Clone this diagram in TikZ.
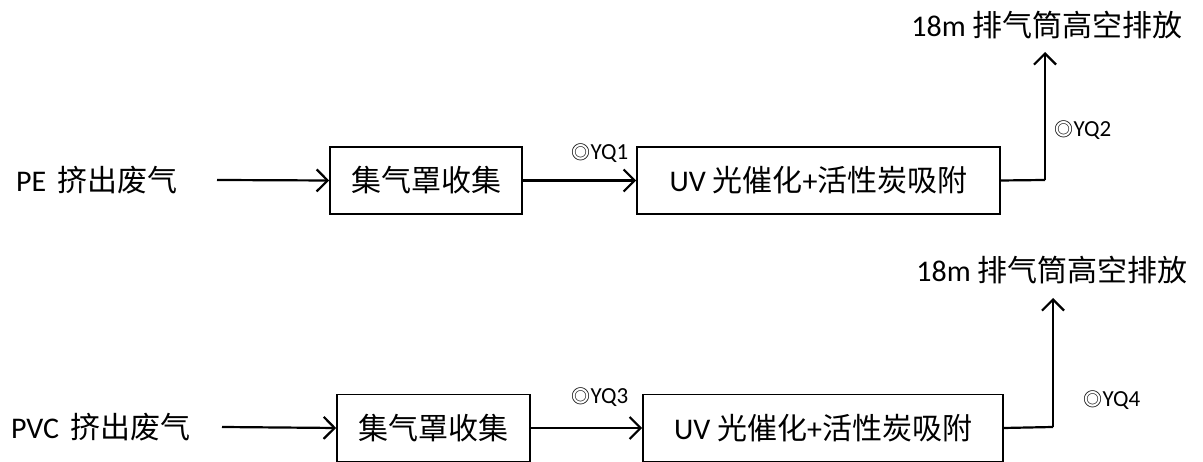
\documentclass[tikz,border=0pt]{standalone}
\usepackage{fontspec}
\setmainfont{Carlito}
\newfontfamily\cjk{Noto Sans CJK SC}
\usetikzlibrary{arrows.meta}
\begin{document}
\begin{tikzpicture}[x=1pt,y=1pt,
  txt/.style={inner sep=0pt,font=\fontsize{30}{32}\selectfont},
  lbl/.style={inner sep=0pt,font=\fontsize{23}{25}\selectfont},
  procbox/.style={draw,line width=1.6pt,minimum height=67pt,inner sep=0pt,font=\fontsize{30}{32}\selectfont},
  flow/.style={line width=2.2pt,-{Straight Barb[length=11pt,width=22pt,line width=2.2pt]}},
  plain/.style={line width=2.2pt}]
\useasboundingbox (0,0) rectangle (1203,462);
\clip (0,0) rectangle (1203,462);
% row 1
\node[txt] (in1) at (97,282) {PE\, {\cjk 挤出废气}};
\node[procbox,minimum width=192pt] (b1) at (426,281.5) {\cjk 集气罩收集};
\node[procbox,minimum width=363pt] (b2) at (818.5,281.5) {UV {\cjk 光催化}+{\cjk 活性炭吸附}};
\coordinate (s1) at (217,282);
\coordinate (k1) at (1045,282);
\node[txt] (o1) at (1047,437) {18m {\cjk 排气筒高空排放}};
\coordinate (t1) at (1045,410);
\node[lbl] (q1) at (600,309) {{\cjk\fontsize{19}{21}\selectfont ◎}YQ1};
\node[lbl] (q2) at (1083,332) {{\cjk\fontsize{19}{21}\selectfont ◎}YQ2};
\draw[flow] (s1) -- (b1.west);
\draw[flow] (b1.east) -- (b2.west);
\draw[plain] (b2.east) -- (k1);
\draw[flow] (k1) -- (t1);
% row 2
\node[txt] (in2) at (101,35) {PVC\, {\cjk 挤出废气}};
\node[procbox,minimum width=193pt] (b3) at (433.5,34) {\cjk 集气罩收集};
\node[procbox,minimum width=360pt] (b4) at (823,34) {UV {\cjk 光催化}+{\cjk 活性炭吸附}};
\coordinate (s2) at (222,35);
\coordinate (k2) at (1053,35);
\node[txt] (o2) at (1052,192) {18m {\cjk 排气筒高空排放}};
\coordinate (t2) at (1053,164);
\node[lbl] (q3) at (600,65) {{\cjk\fontsize{19}{21}\selectfont ◎}YQ3};
\node[lbl] (q4) at (1112,62) {{\cjk\fontsize{19}{21}\selectfont ◎}YQ4};
\draw[flow] (s2) -- (b3.west);
\draw[flow] (b3.east) -- (b4.west);
\draw[plain] (b4.east) -- (k2);
\draw[flow] (k2) -- (t2);
\end{tikzpicture}
\end{document}
